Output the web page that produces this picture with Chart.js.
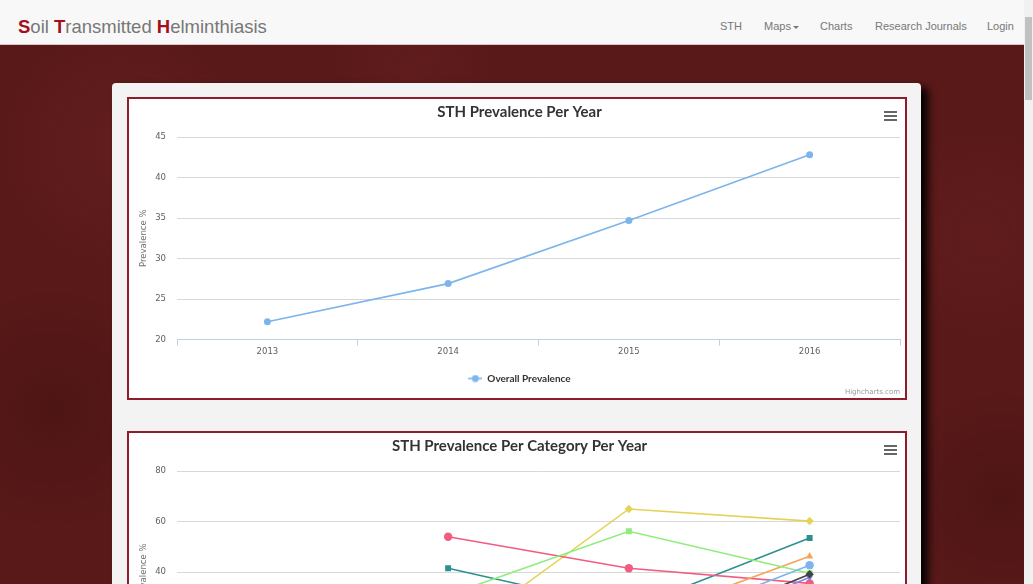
<!DOCTYPE html>
<html>
<head>
<meta charset="utf-8">
<script src="https://cdn.jsdelivr.net/npm/chart.js@4"></script>
<style>
  html, body { margin: 0; padding: 0; width: 1033px; height: 584px; overflow: hidden; }
  body {
    background-color: #5a1919;
    background-image:
      radial-gradient(circle at 12% 25%, rgba(125,45,45,0.25), transparent 12%),
      radial-gradient(circle at 40% 12%, rgba(120,40,40,0.2), transparent 10%),
      radial-gradient(circle at 95% 40%, rgba(120,40,40,0.2), transparent 10%),
      radial-gradient(circle at 5% 70%, rgba(40,8,8,0.25), transparent 12%),
      radial-gradient(circle at 97% 85%, rgba(40,8,8,0.25), transparent 10%);
    font-family: "Liberation Sans", Arial, sans-serif;
  }
  .navbar {
    position: absolute; left: 0; top: 0; width: 1024px; height: 44px;
    background: #f8f8f8; border-bottom: 1px solid #d9c7c7;
  }
  .brand { position: absolute; left: 18px; top: 16px; font-size: 18.5px; color: #777; white-space: nowrap; }
  .brand b { color: #a3101c; }
  .nav a { position: absolute; top: 20px; font-size: 11px; color: #777; text-decoration: none; white-space: nowrap; }
  .caret { display: inline-block; width: 0; height: 0; margin-left: 2px; vertical-align: middle;
    border-top: 3px solid #777; border-left: 3px solid transparent; border-right: 3px solid transparent; }
  .scrollbar { position: absolute; left: 1024px; top: 0; width: 9px; height: 584px; background: #f1f1f1; }
  .scrollbar .thumb { position: absolute; left: 1px; top: 17px; width: 7px; height: 83px; background: #c1c1c1; }
  .panel {
    position: absolute; left: 112px; top: 83px; width: 809px; height: 560px;
    background: #f3f3f3; border-radius: 4px; box-shadow: 7px 5px 8px rgba(0,0,0,0.95);
  }
  .box {
    position: absolute; left: 127px; width: 776px; height: 299px;
    border: 2px solid #8e1c2d; background: #fff;
  }
  .box canvas { position: absolute; left: 0; top: 0; }
  .menu { position: absolute; right: 8px; top: 12px; width: 13px; }
  .menu span { display: block; height: 2px; background: #666; margin-bottom: 2px; }
  .credit { position: absolute; right: 5px; bottom: 2px; font: 7px "DejaVu Sans", sans-serif; color: #999; }
</style>
</head>
<body>
<div class="navbar">
  <div class="brand"><b>S</b>oil <b>T</b>ransmitted <b>H</b>elminthiasis</div>
  <div class="nav">
    <a style="left:720px">STH</a>
    <a style="left:764px">Maps<span class="caret"></span></a>
    <a style="left:820px">Charts</a>
    <a style="left:875px">Research Journals</a>
    <a style="left:987px">Login</a>
  </div>
</div>
<div class="scrollbar"><div class="thumb"></div></div>
<div class="panel"></div>

<div class="box" style="top:97px">
  <canvas id="yearChart" width="776" height="299"></canvas>
  <div class="menu"><span></span><span></span><span></span></div>
  <div class="credit">Highcharts.com</div>
</div>
<div class="box" style="top:431px">
  <canvas id="categoryChart" width="776" height="299"></canvas>
  <div class="menu"><span></span><span></span><span></span></div>
  <div class="credit">Highcharts.com</div>
</div>

<script>
// Dados
const years = ['2013', '2014', '2015', '2016'];
const overallPrevalence = [22.2, 26.9, 34.7, 42.8];

// categorias (legenda fora da imagem)
const categoryNames = ['Series 1', 'Series 2', 'Series 3', 'Series 4', 'Series 5', 'Series 6', 'Series 7', 'Series 8'];
const series1 = [null, 18, 15, 42.8];
const series2 = [null, 12, 10, 39.2];
const series3 = [null, 31, 56.2, 39.6];
const series4 = [null, 16, 20, 46.3];
const series5 = [null, 10, 8, 38];
const series6 = [null, 54, 41.6, 35.6];
const series7 = [null, 13, 65, 60.2];
const series8 = [null, 41.6, 25.5, 53.5];
const categorySeries = [series1, series2, series3, series4, series5, series6, series7, series8];

// estilos
const colors = ['#7cb5ec', '#434348', '#90ed7d', '#f7a35c', '#8085e9', '#f15c80', '#e4d354', '#2b908f'];
const markers = ['circle', 'rectRot', 'rect', 'triangle', 'triangle', 'circle', 'rectRot', 'rect'];
const rotations = [0, 0, 0, 0, 180, 0, 0, 0];

const tickFont = { family: 'DejaVu Sans', size: 8.5 };

// simbolo da legenda: linha + marcador
function legendSymbol(color) {
    const c = document.createElement('canvas');
    c.width = 14; c.height = 8;
    const ctx = c.getContext('2d');
    ctx.strokeStyle = color;
    ctx.lineWidth = 1.6;
    ctx.beginPath(); ctx.moveTo(0, 4); ctx.lineTo(14, 4); ctx.stroke();
    ctx.fillStyle = color;
    ctx.beginPath(); ctx.arc(7, 4, 3.5, 0, Math.PI * 2); ctx.fill();
    return c;
}

function baseOptions(title, yMin, yMax, step) {
    return {
        responsive: false,
        animation: false,
        layout: { padding: { left: 10, right: 5, top: 0, bottom: 4.5 } },
        plugins: {
            title: {
                display: true,
                text: title,
                color: '#333',
                font: { family: 'Lato', size: 15, weight: 'bold' },
                padding: { top: 4, bottom: 16 }
            },
            legend: {
                position: 'bottom',
                labels: {
                    color: '#333',
                    font: { family: 'Lato', size: 10, weight: 'bold' },
                    usePointStyle: true,
                    pointStyleWidth: 14,
                    boxHeight: 8,
                    padding: 6
                }
            },
            tooltip: { enabled: false }
        },
        scales: {
            x: {
                offset: true,
                grid: { offset: true, drawOnChartArea: false, color: '#C0D0E0', tickLength: 6 },
                border: { color: '#C0D0E0' },
                ticks: { font: tickFont, color: '#606060', padding: 1 },
                afterFit: s => { s.height = 28; }
            },
            y: {
                min: yMin,
                max: yMax,
                ticks: { stepSize: step, font: tickFont, color: '#606060', padding: 11 },
                grid: { color: '#D8D8D8', drawTicks: false },
                border: { display: false },
                title: { display: true, text: 'Prevalence %', color: '#707070', font: tickFont, padding: 0 },
                afterFit: s => { s.width = 38; }
            }
        }
    };
}

// Grafico 1
const yearData = {
    labels: years,
    datasets: [{
        label: 'Overall Prevalence',
        data: overallPrevalence,
        borderColor: '#7cb5ec',
        backgroundColor: '#7cb5ec',
        borderWidth: 1.6,
        pointRadius: 3.5,
        pointBorderWidth: 0,
        tension: 0
    }]
};
const yearOptions = baseOptions('STH Prevalence Per Year', 20, 45, 5);
yearOptions.plugins.legend.labels.pointStyle = legendSymbol('#7cb5ec');

// Grafico 2
const categoryData = {
    labels: years,
    datasets: categoryNames.map((name, i) => ({
        label: name,
        data: categorySeries[i],
        borderColor: colors[i],
        backgroundColor: colors[i],
        borderWidth: 1.6,
        pointStyle: markers[i],
        pointRotation: rotations[i],
        pointRadius: 4.2,
        pointBorderWidth: 0,
        tension: 0
    }))
};
const categoryOptions = baseOptions('STH Prevalence Per Category Per Year', 0, 80, 20);

window.onload = function() {
    new Chart(document.getElementById('yearChart').getContext('2d'), { type: 'line', data: yearData, options: yearOptions });
    new Chart(document.getElementById('categoryChart').getContext('2d'), { type: 'line', data: categoryData, options: categoryOptions });
};
</script>
</body>
</html>
